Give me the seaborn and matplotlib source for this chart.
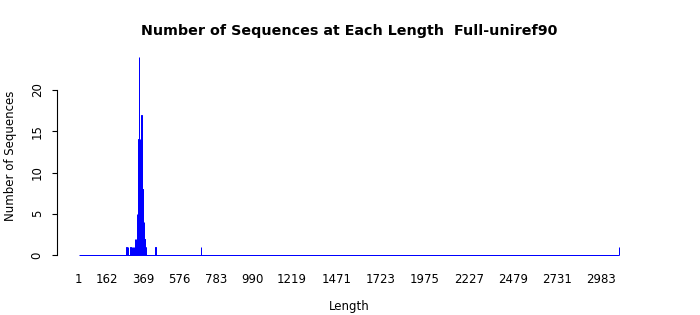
import numpy as np
import pandas as pd
import matplotlib
matplotlib.use("Agg")
import matplotlib.pyplot as plt
import seaborn as sns

# ---- data ----
outlier_lengths = [274, 280, 297, 303, 312, 316, 320, 324, 439, 699, 3086]
outlier_counts = [1, 1, 1, 1, 1, 1, 2, 1, 1, 1, 1]

core_lengths = [328, 330, 331, 332, 333, 334, 335, 336, 337, 338, 339, 340,
                341, 342, 343, 344, 345, 346, 347, 348, 349, 350, 351, 352,
                353, 354, 355, 356, 357, 358, 359, 360, 361, 362, 363, 364,
                365, 366, 367, 368, 369, 370, 371, 372, 373, 374, 375, 376,
                377, 378, 379, 380, 381, 383, 384]
core_counts = [1, 2, 1, 2, 3, 2, 4, 5, 3, 6, 8, 5,
               7, 14, 9, 11, 23, 24, 19, 12, 14, 10, 13, 11,
               8, 12, 9, 14, 11, 8, 17, 10, 11, 7, 8, 6,
               8, 7, 5, 8, 4, 6, 3, 4, 3, 2, 3, 2,
               2, 1, 2, 1, 1, 1, 1]

min_length = 1
max_length = 3086

x_tick_labels = [1, 162, 369, 576, 783, 990, 1219, 1471, 1723, 1975,
                 2227, 2479, 2731, 2983]
y_ticks = [0, 5, 10, 15, 20]

title = "Number of Sequences at Each Length  Full-uniref90"
x_label = "Length"
y_label = "Number of Sequences"

df = pd.DataFrame({
    "length": outlier_lengths + core_lengths,
    "count": outlier_counts + core_counts,
})

# ---- plot ----
sns.set_style("white")
plt.rcParams["font.family"] = ["DejaVu Sans"]
plt.rcParams["text.color"] = "black"
plt.rcParams["axes.labelcolor"] = "black"

BLUE = "#0000FF"

fig = plt.figure(figsize=(7.0, 3.15), dpi=100)
ax = fig.add_axes([57 / 700, 1 - 263 / 315, (641 - 57) / 700, (263 - 49) / 315])

# zero-height bars along the full length range form the baseline (as in R)
base = ax.hlines(0, min_length - 0.5, max_length + 0.5, color=BLUE, linewidth=0.72)
base.set_snap(True)

sns.barplot(data=df, x="length", y="count", native_scale=True,
            color=BLUE, saturation=1, width=1.0, edgecolor=BLUE,
            linewidth=0.72, errorbar=None, ax=ax)
for p in ax.patches:
    p.set_snap(True)

pad = (max_length - min_length) * 0.04
ax.set_xlim(min_length - pad - 0.5, max_length + pad + 0.5)
ymax = 24
ax.set_ylim(-ymax * 0.04, ymax * 1.04)

ax.set_xticks(x_tick_labels)
ax.set_xticklabels([str(v) for v in x_tick_labels])
ax.set_yticks(y_ticks)
ax.set_yticklabels([str(v) for v in y_ticks], rotation=90, va="center")

ax.tick_params(axis="x", length=0, pad=7, labelsize=8.5, colors="black")
ax.tick_params(axis="y", length=3.6, width=0.8, pad=6, labelsize=8.5,
               colors="black", left=True, direction="out")

for s in ["top", "right", "bottom"]:
    ax.spines[s].set_visible(False)
ax.spines["left"].set_bounds(0, 20)
ax.spines["left"].set_color("black")
ax.spines["left"].set_linewidth(0.8)

ax.set_xlabel(x_label, fontsize=8.5, labelpad=10, color="black")
ax.set_ylabel(y_label, fontsize=8.5, labelpad=10, color="black")
ax.set_title(title, fontsize=10.25, fontweight="bold", pad=10, color="black")
ax.grid(False)

fig.savefig("out.png", dpi=100)
